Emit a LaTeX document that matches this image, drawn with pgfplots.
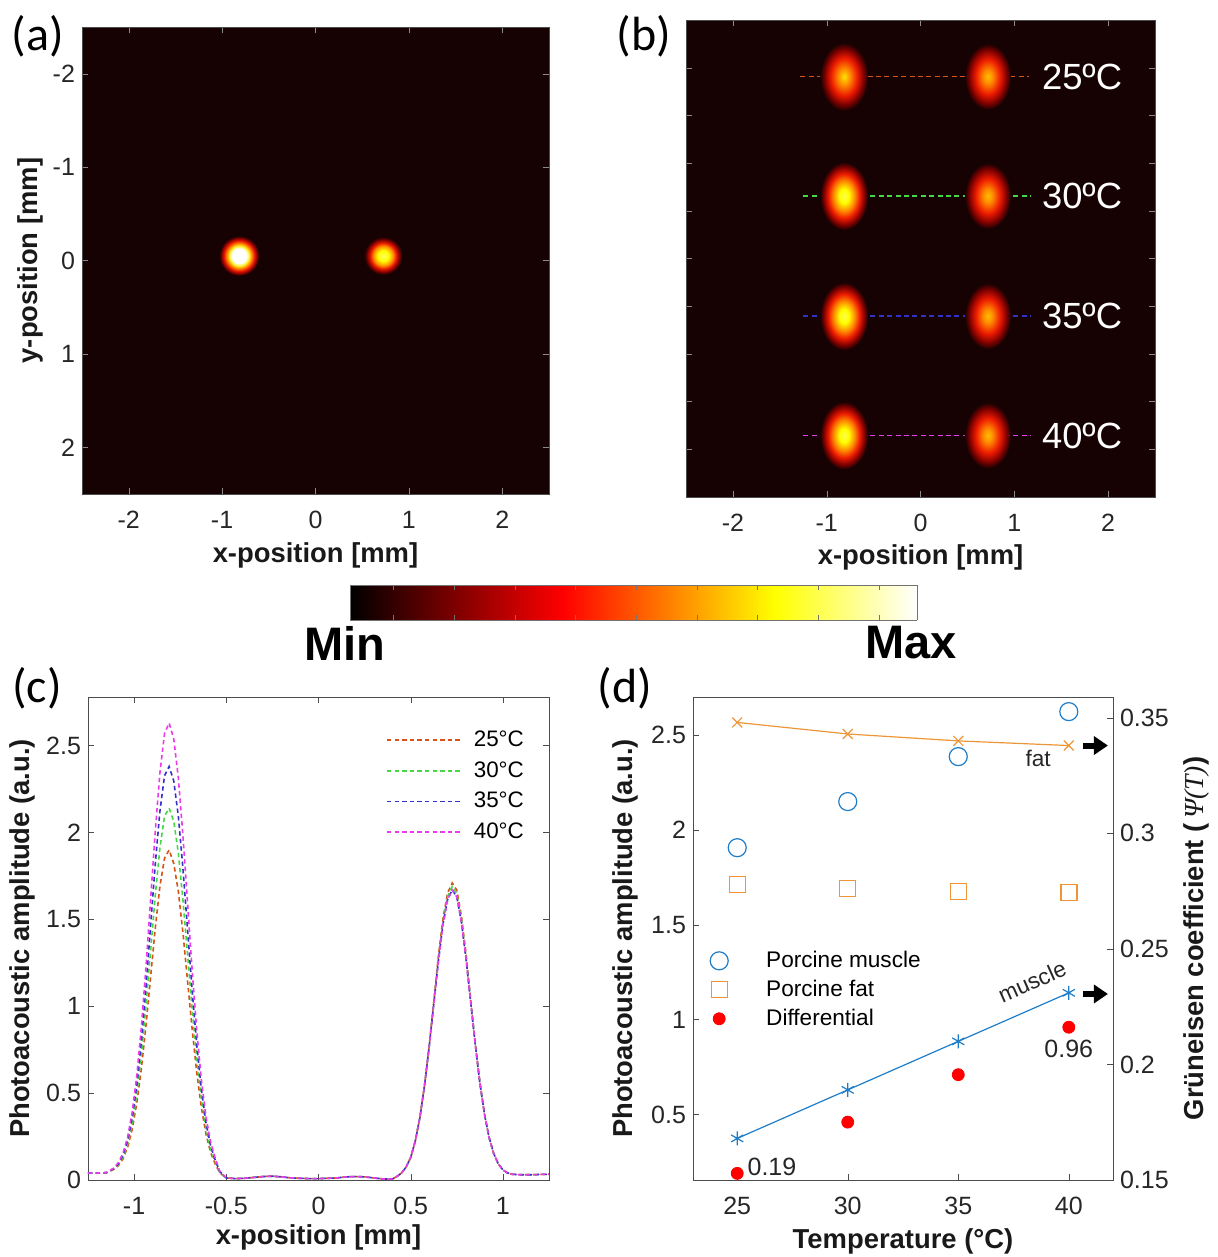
\documentclass[border=0pt]{standalone}
\usepackage{fontspec}
\setmainfont{Liberation Sans}
\newfontfamily\carlito{Carlito}
\newfontfamily\libserif{Liberation Serif}
\usepackage{pgfplots}
\pgfplotsset{compat=1.18}
\usepackage{pgfplotstable}
\usetikzlibrary{shapes.geometric,arrows.meta}

\definecolor{bgc}{RGB}{22,2,2}
\definecolor{hotdark}{RGB}{120,0,0}
\definecolor{hotred}{RGB}{235,25,0}
\definecolor{hotorange}{RGB}{255,140,0}
\definecolor{hotyellow}{RGB}{255,240,40}
\definecolor{c25}{RGB}{217,83,25}
\definecolor{c30}{RGB}{70,215,70}
\definecolor{c35}{RGB}{50,50,200}
\definecolor{c40}{RGB}{235,60,235}
\definecolor{mblue}{RGB}{30,125,200}
\definecolor{morange}{RGB}{237,150,55}

\pgfdeclareradialshading{spotA}{\pgfpoint{0bp}{0bp}}{color(0bp)=(white); color(9bp)=(white); color(12.5bp)=(hotyellow); color(15.5bp)=(hotorange); color(19bp)=(hotred); color(22.5bp)=(hotdark); color(25bp)=(bgc); color(50bp)=(bgc)}
\pgfdeclareradialshading{spotB}{\pgfpoint{0bp}{0bp}}{color(0bp)=(yellow!60!white); color(7bp)=(yellow); color(13bp)=(hotorange); color(17bp)=(hotred); color(21.5bp)=(hotdark); color(25bp)=(bgc); color(50bp)=(bgc)}
\pgfdeclareradialshading{spotC}{\pgfpoint{0bp}{0bp}}{color(0bp)=(yellow!70!white); color(5bp)=(yellow); color(11bp)=(hotorange); color(16.5bp)=(hotred); color(21.5bp)=(hotdark); color(25bp)=(bgc); color(50bp)=(bgc)}
\pgfdeclareradialshading{spotD}{\pgfpoint{0bp}{0bp}}{color(0bp)=(yellow!80!orange); color(6bp)=(hotorange); color(14bp)=(hotred); color(20.5bp)=(hotdark); color(25bp)=(bgc); color(50bp)=(bgc)}
\pgfdeclareradialshading{spotE}{\pgfpoint{0bp}{0bp}}{color(0bp)=(orange!50!yellow); color(5bp)=(hotorange); color(13.5bp)=(hotred); color(20.5bp)=(hotdark); color(25bp)=(bgc); color(50bp)=(bgc)}

\newcommand\ticklab{\fontsize{12.5}{14}\selectfont}
\newcommand\lab{\fontsize{13.7}{16}\selectfont\bfseries}

\pgfplotsset{
  myaxis/.style={scale only axis, tick align=inside, major tick length=3pt,
    axis line style={black!70}, tick style={black!70},
    tick label style={font=\ticklab, text=black!85},
    xticklabel style={anchor=center, yshift=-12.8pt},
    label style={font=\lab, text=black!90},
    xlabel style={anchor=center}, ylabel style={anchor=center}},
  spot/.style={draw=none, mark=none, nodes near coords={},
    every node near coord/.style={circle, inner sep=0pt, minimum size=#1, shade, shading=spotA, anchor=center}},
}

\pgfplotstableread{
x t25 t30 t35 t40
-1.25 0.040 0.040 0.040 0.040
-1.20 0.040 0.040 0.040 0.040
-1.15 0.042 0.042 0.042 0.042
-1.11 0.061 0.064 0.066 0.069
-1.085 0.083 0.088 0.094 0.100
-1.06 0.122 0.133 0.144 0.155
-1.035 0.189 0.209 0.228 0.248
-1.01 0.293 0.327 0.359 0.393
-0.985 0.445 0.499 0.551 0.605
-0.96 0.647 0.728 0.806 0.888
-0.935 0.896 1.011 1.120 1.235
-0.91 1.174 1.326 1.471 1.623
-0.885 1.452 1.640 1.821 2.010
-0.86 1.690 1.911 2.123 2.343
-0.835 1.852 2.095 2.327 2.570
-0.81 1.900 2.140 2.380 2.630
-0.785 1.822 2.065 2.297 2.540
-0.76 1.660 1.881 2.093 2.313
-0.735 1.422 1.610 1.791 1.980
-0.71 1.144 1.296 1.441 1.593
-0.685 0.866 0.981 1.090 1.205
-0.66 0.617 0.698 0.776 0.858
-0.635 0.415 0.469 0.521 0.575
-0.61 0.263 0.297 0.329 0.363
-0.585 0.159 0.179 0.198 0.218
-0.56 0.092 0.103 0.114 0.125
-0.535 0.040 0.045 0.048 0.050
-0.50 0.012 0.012 0.012 0.012
-0.45 0.008 0.008 0.008 0.008
-0.40 0.010 0.010 0.010 0.010
-0.35 0.015 0.015 0.015 0.015
-0.30 0.020 0.020 0.020 0.020
-0.25 0.022 0.022 0.022 0.022
-0.20 0.018 0.018 0.018 0.018
-0.15 0.012 0.012 0.012 0.012
-0.10 0.010 0.010 0.010 0.010
-0.05 0.008 0.008 0.008 0.008
0.00 0.008 0.008 0.008 0.008
0.05 0.010 0.010 0.010 0.010
0.10 0.012 0.012 0.012 0.012
0.15 0.018 0.018 0.018 0.018
0.20 0.020 0.020 0.020 0.020
0.25 0.018 0.018 0.018 0.018
0.30 0.012 0.012 0.012 0.012
0.35 0.006 0.006 0.006 0.006
0.40 0.005 0.005 0.005 0.005
0.425 0.020 0.020 0.020 0.020
0.45 0.040 0.040 0.040 0.040
0.475 0.074 0.074 0.074 0.074
0.50 0.130 0.130 0.130 0.130
0.525 0.225 0.225 0.225 0.225
0.55 0.360 0.360 0.360 0.360
0.575 0.544 0.544 0.544 0.544
0.60 0.770 0.767 0.765 0.765
0.625 1.025 1.018 1.012 1.012
0.65 1.288 1.270 1.258 1.258
0.675 1.505 1.488 1.470 1.470
0.70 1.652 1.633 1.614 1.614
0.725 1.710 1.690 1.670 1.670
0.75 1.668 1.648 1.629 1.629
0.775 1.520 1.502 1.485 1.485
0.80 1.302 1.288 1.273 1.273
0.825 1.040 1.033 1.027 1.027
0.85 0.790 0.785 0.780 0.780
0.875 0.565 0.562 0.559 0.559
0.90 0.382 0.380 0.379 0.379
0.925 0.245 0.245 0.245 0.245
0.95 0.153 0.153 0.153 0.153
0.975 0.093 0.093 0.093 0.093
1.00 0.058 0.058 0.058 0.058
1.025 0.041 0.041 0.041 0.041
1.05 0.033 0.033 0.033 0.033
1.10 0.030 0.030 0.030 0.030
1.15 0.030 0.030 0.030 0.030
1.20 0.032 0.032 0.032 0.032
1.25 0.033 0.033 0.033 0.033
}\tablec

\begin{document}
\begin{tikzpicture}
\path[use as bounding box] (0,0) rectangle (608.5pt,-628.5pt);

% ---------------- (a)
\begin{axis}[myaxis, at={(41pt,-13.5pt)}, anchor=north west,
  width=233.5pt, height=233.5pt,
  xmin=-2.5, xmax=2.5, ymin=-2.5, ymax=2.5, y dir=reverse,
  xtick={-2,-1,0,1,2}, xticklabels={-2,-1,0,1,2},
  ytick={-2,-1,0,1,2}, yticklabels={-2,-1,0,1,2},
  axis background/.style={fill=bgc}, tick style={black!45},
  xlabel={x-position [mm]}, ylabel={y-position [mm]},
  xlabel style={at={(axis description cs:0.5,-0.131)}},
  ylabel style={at={(axis description cs:-0.111,0.5)}}]
\addplot[spot=20pt] coordinates {(-0.817,-0.05)};
\addplot[spot=19pt, every node near coord/.append style={shading=spotB}] coordinates {(0.725,-0.05)};
\end{axis}

% ---------------- (b)
\begin{axis}[myaxis, at={(343pt,-10pt)}, anchor=north west,
  width=234.5pt, height=238.5pt,
  xmin=-2.5, xmax=2.5, ymin=0, ymax=10, y dir=reverse,
  xtick={-2,-1,0,1,2}, xticklabels={-2,-1,0,1,2},
  ytick={1,2,3,4,5,6,7,8,9}, yticklabels={},
  axis background/.style={fill=bgc}, tick style={black!45},
  xlabel={x-position [mm]},
  xlabel style={at={(axis description cs:0.5,-0.126)}}]
\addplot[draw=none, mark=none, nodes near coords={},
  every node near coord/.style={ellipse, inner sep=0pt, minimum width=24pt, minimum height=34pt, shade, shading=spotD, anchor=center}]
  coordinates {(-0.815,1.19)};
\addplot[draw=none, mark=none, nodes near coords={},
  every node near coord/.style={ellipse, inner sep=0pt, minimum width=24pt, minimum height=34pt, shade, shading=spotC, anchor=center}]
  coordinates {(-0.815,3.69) (-0.815,6.21) (-0.815,8.71)};
\addplot[draw=none, mark=none, nodes near coords={},
  every node near coord/.style={ellipse, inner sep=0pt, minimum width=23pt, minimum height=33pt, shade, shading=spotE, anchor=center}]
  coordinates {(0.718,1.19) (0.718,3.69) (0.718,6.21) (0.718,8.71)};
\addplot[c25, line width=0.7pt, dash pattern=on 2.5pt off 1.7pt] coordinates {(-1.28,1.19) (1.16,1.19)};
\addplot[c30, line width=0.85pt, dash pattern=on 2.5pt off 1.7pt] coordinates {(-1.25,3.69) (1.18,3.69)};
\addplot[c35, line width=0.85pt, dash pattern=on 2.5pt off 1.7pt] coordinates {(-1.25,6.21) (1.18,6.21)};
\addplot[c40, line width=0.85pt, dash pattern=on 2.5pt off 1.7pt] coordinates {(-1.25,8.71) (1.18,8.71)};
\node[anchor=west, text=white, font=\fontsize{18.2}{20}\selectfont] at (axis cs:1.22,1.19) {25ºC};
\node[anchor=west, text=white, font=\fontsize{18.2}{20}\selectfont] at (axis cs:1.22,3.69) {30ºC};
\node[anchor=west, text=white, font=\fontsize{18.2}{20}\selectfont] at (axis cs:1.22,6.21) {35ºC};
\node[anchor=west, text=white, font=\fontsize{18.2}{20}\selectfont] at (axis cs:1.22,8.71) {40ºC};
\end{axis}

% ---------------- colour bar
\begin{axis}[at={(175pt,-292.5pt)}, anchor=north west, scale only axis,
  width=283.5pt, height=17.5pt, view={0}{90},
  xmin=0, xmax=1, ymin=0, ymax=1, zmin=-1, zmax=1,
  xtick={0.077,0.184,0.291,0.398,0.505,0.612,0.719,0.826,0.933}, xticklabels={},
  ytick=\empty, ztick=\empty, tick align=inside, major tick length=2.5pt,
  axis line style={black!55}, tick style={black!55},
  colormap={hotmap}{rgb255(0cm)=(0,0,0); rgb255(3cm)=(255,0,0); rgb255(6cm)=(255,255,0); rgb255(8cm)=(255,255,255)},
  point meta min=0, point meta max=1]
\addplot3[surf, shader=interp, point meta=x] coordinates {
(0,0,0) (0.375,0,0) (0.75,0,0) (1,0,0)

(0,1,0) (0.375,1,0) (0.75,1,0) (1,1,0)
};
\end{axis}
\node[font=\bfseries\fontsize{23.5}{26}\selectfont] at (172.5pt,-321.5pt) {Min};
\node[font=\bfseries\fontsize{23.5}{26}\selectfont] at (455.5pt,-321.5pt) {Max};

% ---------------- (c)
\begin{axis}[myaxis, at={(44pt,-348.5pt)}, anchor=north west,
  width=230.5pt, height=241.5pt,
  xmin=-1.25, xmax=1.25, ymin=0, ymax=2.78,
  xtick={-1,-0.5,0,0.5,1}, xticklabels={-1,-0.5,0,0.5,1},
  ytick={0,0.5,1,1.5,2,2.5}, yticklabels={0,0.5,1,1.5,2,2.5},
  xlabel={x-position [mm]}, ylabel={Photoacoustic amplitude (a.u.)},
  xlabel style={at={(axis description cs:0.5,-0.118)}},
  ylabel style={at={(axis description cs:-0.143,0.5)}},
  legend style={draw=none, fill=none, at={(axis description cs:0.955,0.939)}, anchor=north east,
    font=\fontsize{11.2}{13}\selectfont, row sep=2pt, column sep=3.5pt, inner sep=0pt},
  legend cell align=left,
  legend image code/.code={\draw[#1] (0pt,0pt) -- (37.5pt,0pt);}]
\addplot[c25, line width=0.8pt, dash pattern=on 2.2pt off 1.6pt] table[x=x,y=t25]{\tablec};
\addlegendentry{25°C}
\addplot[c30, line width=0.8pt, dash pattern=on 2.2pt off 1.6pt] table[x=x,y=t30]{\tablec};
\addlegendentry{30°C}
\addplot[c35, line width=0.8pt, dash pattern=on 2.2pt off 1.6pt] table[x=x,y=t35]{\tablec};
\addlegendentry{35°C}
\addplot[c40, line width=0.8pt, dash pattern=on 2.2pt off 1.6pt] table[x=x,y=t40]{\tablec};
\addlegendentry{40°C}
\end{axis}

% ---------------- (d) left axis
\begin{axis}[myaxis, at={(346.5pt,-348.5pt)}, anchor=north west,
  width=210pt, height=241.5pt,
  xmin=23, xmax=42, ymin=0.155, ymax=2.70,
  xtick={25,30,35,40}, xticklabels={25,30,35,40},
  ytick={0.5,1,1.5,2,2.5}, yticklabels={0.5,1,1.5,2,2.5},
  xtick pos=left, ytick pos=left, clip=false,
  xlabel={Temperature (°C)}, ylabel={Photoacoustic amplitude (a.u.)},
  xlabel style={at={(axis description cs:0.5,-0.128)}},
  ylabel style={at={(axis description cs:-0.16,0.5)}},
  legend style={draw=none, fill=none, at={(axis description cs:0.04,0.483)}, anchor=north west,
    font=\fontsize{11.3}{13}\selectfont, row sep=0.8pt, column sep=17pt, inner sep=0pt},
  legend cell align=left]
\addplot[only marks, mark=o, mark size=4.5pt, mblue, line width=0.6pt] coordinates {(25,1.906) (30,2.149) (35,2.386) (40,2.623)};
\addlegendentry{Porcine muscle}
\addplot[only marks, mark=square, mark size=4pt, morange, line width=0.7pt] coordinates {(25,1.711) (30,1.690) (35,1.674) (40,1.669)};
\addlegendentry{Porcine fat}
\addplot[only marks, mark=*, mark size=3pt, red, draw=red] coordinates {(25,0.19) (30,0.46) (35,0.71) (40,0.96)};
\addlegendentry{Differential}
\node[anchor=west, font=\ticklab, text=black!85] at (axis cs:25.15,0.224) {0.19};
\node[font=\ticklab, text=black!85] at (axis cs:40,0.846) {0.96};
\node[font=\fontsize{11.3}{13}\selectfont, text=black!85] at (axis cs:38.61,2.375) {fat};
\node[font=\fontsize{11.3}{13}\selectfont, text=black!85, rotate=24, inner sep=1pt] at (axis cs:38.34,1.20) {muscle};
\end{axis}

% ---------------- (d) right axis
\begin{axis}[myaxis, at={(346.5pt,-348.5pt)}, anchor=north west,
  width=210pt, height=241.5pt,
  xmin=23, xmax=42, ymin=0.15, ymax=0.359,
  axis y line*=right, axis x line=none,
  ytick={0.15,0.2,0.25,0.3,0.35}, yticklabels={0.15,0.2,0.25,0.3,0.35},
  ylabel={Grüneisen coefficient (\,{\libserif\mdseries\itshape Ψ(T)})},
  ylabel style={at={(axis description cs:1.198,0.5)}}, clip=false]
\addplot[morange, mark=x, mark size=3.5pt, line width=0.6pt] coordinates {(25,0.348) (30,0.343) (35,0.340) (40,0.338)};
\addplot[mblue, mark=asterisk, mark size=3.5pt, line width=0.6pt] coordinates {(25,0.168) (30,0.189) (35,0.210) (40,0.231)};
\draw[-{Triangle[length=7pt,width=9pt]}, line width=3pt, black] (axis cs:40.64,0.338) -- (axis cs:41.77,0.338);
\draw[-{Triangle[length=7pt,width=9pt]}, line width=3pt, black] (axis cs:40.64,0.2305) -- (axis cs:41.77,0.2305);
\end{axis}

% panel letters
\node[font=\carlito\fontsize{24}{28}\selectfont] at (19pt,-18pt) {(a)};
\node[font=\carlito\fontsize{24}{28}\selectfont] at (322pt,-18pt) {(b)};
\node[font=\carlito\fontsize{24}{28}\selectfont] at (18.5pt,-344pt) {(c)};
\node[font=\carlito\fontsize{24}{28}\selectfont] at (312.5pt,-344pt) {(d)};
\end{tikzpicture}
\end{document}
